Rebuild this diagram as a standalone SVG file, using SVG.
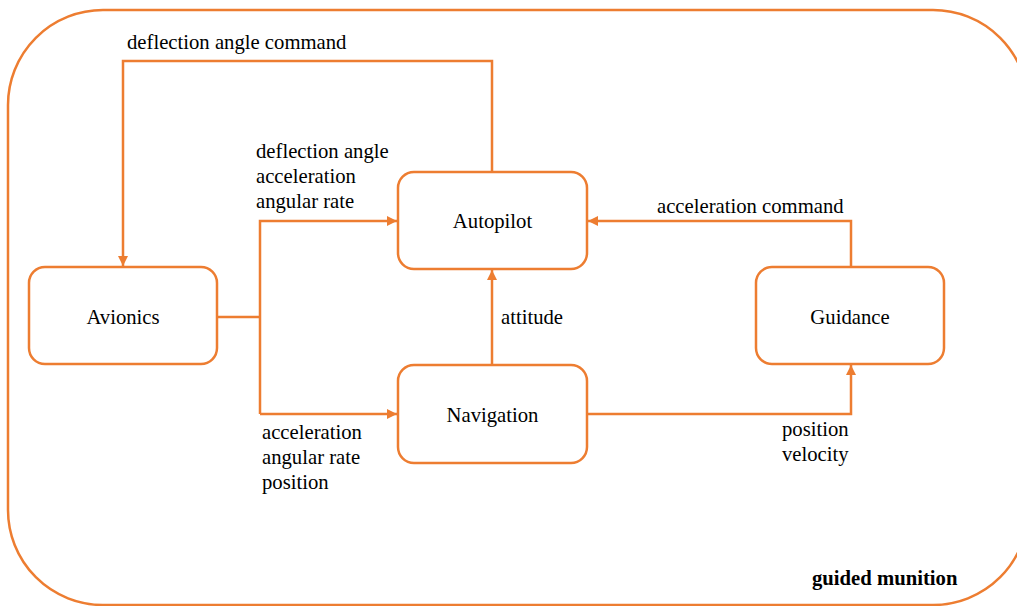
<svg xmlns="http://www.w3.org/2000/svg" width="1017" height="606" viewBox="0 0 1017 606">
<style>
.box{fill:#fff;stroke:#ED7D31;stroke-width:2.5}
.ln{fill:none;stroke:#ED7D31;stroke-width:2.5}
text{font-family:"Liberation Serif","Times New Roman",serif;font-size:20.7px;fill:#000}
.c{text-anchor:middle}
.b{font-weight:bold}
</style>
<defs>
<marker id="ah" viewBox="0 0 10 10" refX="10" refY="5" markerWidth="4" markerHeight="4" orient="auto" markerUnits="strokeWidth">
<path d="M0,0 L10,5 L0,10 z" fill="#ED7D31"/>
</marker>
</defs>
<rect x="8" y="10" width="1020" height="595" rx="95" ry="95" fill="#fff" stroke="#ED7D31" stroke-width="2.5"/>
<g id="connectors">
<path class="ln" d="M492,172 V61 H123 V266" marker-end="url(#ah)"/>
<path class="ln" d="M217,317 H260"/>
<path class="ln" d="M260,414 V221 H397" marker-end="url(#ah)"/>
<path class="ln" d="M260,414 H397" marker-end="url(#ah)"/>
<path class="ln" d="M492,365 V270" marker-end="url(#ah)"/>
<path class="ln" d="M851,267 V221 H588" marker-end="url(#ah)"/>
<path class="ln" d="M587,414 H851 V365" marker-end="url(#ah)"/>
</g>
<g id="labels">
<text x="127" y="49">deflection angle command</text>
<text x="256" y="158">deflection angle</text>
<text x="256" y="183">acceleration</text>
<text x="256" y="208">angular rate</text>
<text x="657" y="213">acceleration command</text>
<text x="501" y="324">attitude</text>
<text x="262" y="439">acceleration</text>
<text x="262" y="464">angular rate</text>
<text x="262" y="489">position</text>
<text x="782" y="436">position</text>
<text x="782" y="461">velocity</text>
<text class="b" x="812" y="585">guided munition</text>
</g>
<g id="autopilot">
<rect class="box" x="398" y="172" width="189" height="97" rx="16"/>
<text class="c" x="492.5" y="228">Autopilot</text>
</g>
<g id="avionics">
<rect class="box" x="29" y="267" width="188" height="97" rx="16"/>
<text class="c" x="123" y="324">Avionics</text>
</g>
<g id="navigation">
<rect class="box" x="398" y="365" width="189" height="98" rx="16"/>
<text class="c" x="492.5" y="422">Navigation</text>
</g>
<g id="guidance">
<rect class="box" x="756" y="267" width="188" height="97" rx="16"/>
<text class="c" x="850" y="324">Guidance</text>
</g>
</svg>
